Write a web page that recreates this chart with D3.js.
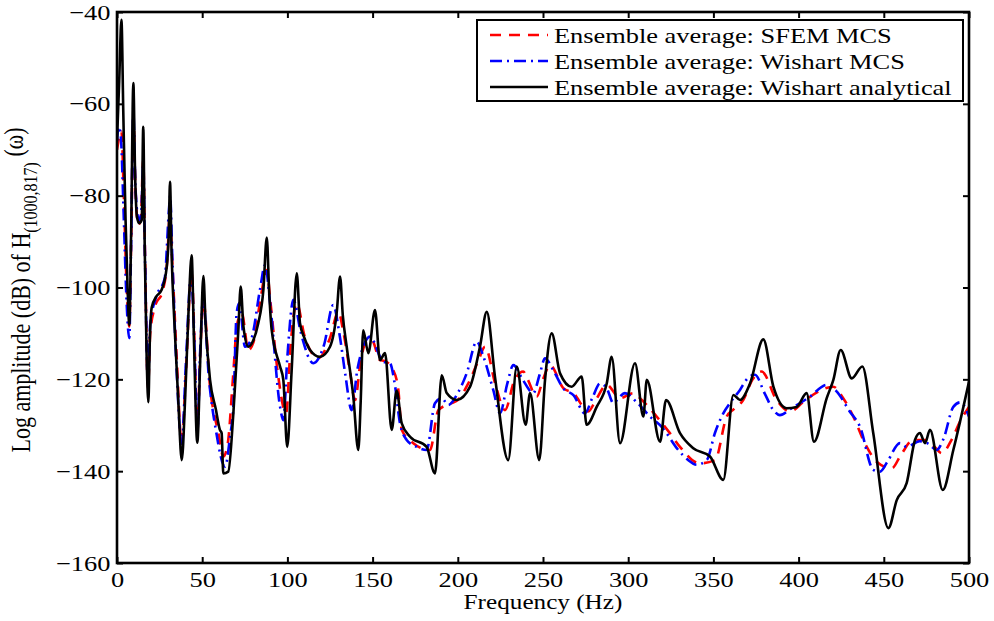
<!DOCTYPE html>
<html>
<head>
<meta charset="utf-8">
<script src="https://cdn.jsdelivr.net/npm/d3@7"></script>
<style>
  body { margin: 0; background: #fff; }
  svg text { font-family: "Liberation Serif", "Times New Roman", serif; fill: #000; }
</style>
</head>
<body>
<svg id="chart" width="994" height="621"></svg>
<script>
// axis ticks
var freqTicks = [0, 50, 100, 150, 200, 250, 300, 350, 400, 450, 500];
var ampTicks = [-160, -140, -120, -100, -80, -60, -40];

// Ensemble average: SFEM MCS
var sfemFreq = [0, 1.5, 2.6, 4, 5.5, 7.2, 8.4, 9.6, 10.8, 12.5, 14, 15.4, 16.5, 18.2, 19.5, 22, 27, 29.5, 31, 32.5, 35, 38, 40.5, 43.8, 45.5, 47.1, 49, 50.7,
  54.6, 59.5, 62.4, 65, 68, 70.5, 73.2, 77.1, 80, 84, 87.9, 90, 94.5, 99.2, 102, 105.5, 110, 118.1, 125, 129.9, 133, 137, 139.7, 143, 146, 149.5, 154.3, 157,
  162.1, 165.1, 167.1, 173.9, 183.7, 188.6, 196.4, 200, 206, 212, 216, 222, 227.7, 233, 238.4, 241, 246.3, 250, 254.1, 261.9, 267.8, 276.6, 281, 287.4,
  295.2, 303, 308, 316.7, 324, 330.4, 342.1, 351, 357.8, 362, 367.5, 373, 378.3, 387.1, 395, 402.6, 410, 420.4, 426, 432, 439, 446, 454.6, 460, 467.3,
  475.2, 480, 484, 490, 495, 500];
var sfemAmp = [-70, -67, -66, -80, -98, -108.5, -88, -63, -78, -86.4, -85, -72, -94, -122, -110, -104.5, -100.5, -94, -84, -95, -115, -134, -118, -97, -112, -131, -113, -103,
  -121.6, -131.7, -136.8, -134, -120, -108, -105.6, -113.6, -112, -103, -96.2, -103, -119, -127.4, -112, -103.4, -110.5, -115.4, -111, -105.3, -110, -119, -124.5, -116, -112, -111.4, -115.8, -116,
  -118, -122.3, -131, -133.9, -135.4, -126.7, -125.2, -124.5, -121, -116, -112.9, -121, -126.7, -120.5, -118.3, -120, -123.8, -120, -116.9, -121.9, -123, -127, -124.5, -121.2,
  -124.1, -123, -124.5, -128.1, -131.5, -134.7, -138.3, -137.6, -128.1, -126.5, -124.5, -120, -118.3, -124.5, -127, -125, -123, -121.6, -124, -128, -134, -138, -139.4, -136.5, -133.2,
  -133.2, -134.8, -136.1, -133, -129, -126];

// Ensemble average: Wishart MCS
var wishartMcsFreq = [0, 1, 2.2, 4, 5.5, 7.2, 8.3, 9.6, 10.8, 12.8, 14.2, 15.4, 16.5, 18.2, 19.5, 23, 28, 30.5, 31.2, 32.5, 35, 38, 40.5, 43.5, 45.5, 47.1, 49, 50.5,
  54, 58, 63.4, 66.5, 68.3, 70.2, 71.8, 75.1, 79, 83.9, 86.9, 90, 95.7, 97.6, 100, 103.5, 108, 115.2, 121.5, 126.9, 130.5, 134, 137.7, 141, 144.5, 148.5, 156.3,
  160.2, 163, 166.1, 170, 175.9, 181.7, 186.6, 190.6, 194.4, 200, 205.2, 211.1, 215, 220.8, 224.8, 229, 232.6, 238, 244.3, 248, 251.2, 256, 262, 268, 274.6,
  279, 283.5, 287.5, 291.3, 294.5, 298.1, 305, 312.8, 320, 329.4, 335, 340.2, 346.1, 350.9, 355.8, 360, 365.6, 370, 374.4, 380, 385.2, 389, 395, 406.6, 416.5,
  422, 430, 436, 443.8, 447.8, 452, 459.5, 463.4, 471, 476, 481, 485, 490.8, 495, 500];
var wishartMcsAmp = [-68, -65, -67, -85, -102, -111, -90, -62, -78, -85.3, -84, -73, -95, -121, -108, -102, -98, -83, -80, -94, -118, -134, -116, -97, -113, -131.5, -112, -102.5,
  -120, -131, -139, -132, -126, -105.6, -103.4, -112.9, -111, -100.5, -95.1, -104, -126, -128.9, -115, -102.7, -110, -116.5, -112.5, -103.8, -110, -119, -126.7, -118, -112.9, -110.7, -116.2,
  -116.5, -121, -129.6, -133.2, -134.7, -135.4, -125.2, -124.1, -125.6, -123, -118.7, -111.8, -115, -122.3, -127.4, -121, -116.9, -120, -123, -119, -115.4, -118, -122, -123.5, -127.4,
  -124, -120.9, -122, -125.2, -124, -123, -125, -128.1, -130.5, -135.4, -137.5, -138.6, -137.6, -131.7, -127.4, -125, -122.3, -119.8, -119, -123, -126.7, -127.8, -126.5, -123.8, -121.2,
  -122.5, -127, -130.3, -139.7, -140.1, -138, -133.9, -134.7, -133.5, -134, -135.4, -133, -126, -125, -128.1];

// Ensemble average: Wishart analytical
var wishartAnaFreq = [0, 1.3, 2.6, 3.7, 5, 6.2, 7.2, 8.3, 9.6, 10.6, 11.7, 13, 14.5, 15.4, 16.3, 17.4, 18.4, 19.3, 20.4, 23, 26.2, 29.2, 30.4, 31.1, 32, 34, 36, 38,
  40, 42, 43.8, 45.2, 47.1, 49, 50.7, 52, 54.6, 58, 60.4, 61.4, 62.4, 65.3, 68.3, 71.2, 72.6, 74.2, 77.1, 80, 82.9, 85.9, 87.9, 89.3, 90.8, 95.7, 97.6, 99.9,
  102.5, 105.5, 107.4, 110, 113.3, 119.1, 125, 128.9, 130.9, 132.5, 134.8, 138.7, 141.6, 143, 144.5, 147.5, 151.4, 154.3, 157.3, 161.2, 164.1, 167.1, 172,
  181.7, 186.6, 190.6, 193.5, 199.4, 207.2, 213, 217, 221.8, 229.6, 234.6, 239.8, 242.4, 247.8, 251.2, 255.1, 260, 266.8, 272.7, 275.6, 281.5, 287.4, 290.3,
  295.2, 304, 308.9, 310.9, 318.7, 322.2, 330.4, 338.2, 348, 355.8, 361.7, 365.6, 371.5, 379.3, 385.2, 393, 398.9, 404.7, 409, 416.5, 420.4, 424.7, 431.2,
  437.4, 443.8, 452.7, 457.6, 463.4, 468.3, 471.2, 474.2, 477.1, 484.6, 490.8, 500];
var wishartAnaAmp = [-68, -55, -41.7, -62, -85, -100, -108.2, -88, -55.5, -75, -84.6, -86, -85.3, -65, -92, -115, -125, -111, -104.3, -102, -100.5, -95.5, -88, -77, -92, -110, -125, -137.6,
  -124, -105, -93, -112, -133.8, -114, -97.5, -108, -120.1, -126.5, -131, -131.7, -140.5, -140.1, -127.3, -109.3, -99.8, -108.5, -112.9, -111.5, -107.8, -100.5, -89.1, -101, -109.3, -117.2, -120.1, -134.7,
  -118, -96.9, -107.8, -111, -113.6, -115.1, -112.9, -105.6, -97.6, -106, -112.9, -123.8, -135.4, -125, -109.3, -114.3, -104.9, -115.8, -114.3, -131, -122.5, -129.6, -132.5,
  -134.7, -140.5, -119.1, -123, -124.5, -121.6, -112.9, -105.3, -119.4, -137.6, -117.2, -129.9, -123, -137.6, -120.1, -110, -118.7, -121.6, -119.4, -129.9, -126, -120.9, -115.1,
  -133.9, -116.5, -128.1, -120.1, -133.6, -124.5, -131.7, -135, -136.8, -141.9, -123.4, -124.5, -120.9, -111.3, -121.6, -126.3, -126, -123, -133.6, -124.1, -120.1, -113.6, -119.8,
  -117.2, -131.7, -152.4, -146.3, -142.6, -133.2, -131.7, -133.9, -131, -144.1, -135.4, -120.5];

var seriesNames = ["Ensemble average: SFEM MCS", "Ensemble average: Wishart MCS", "Ensemble average: Wishart analytical"];

var plotLeft = 117, plotRight = 969, plotTop = 12, plotBottom = 563;
var sx = 1.2; // text in the original is stretched horizontally

var svg = d3.select("#chart");

var x = d3.scaleLinear().domain([0, 500]).range([plotLeft, plotRight]);
var y = d3.scaleLinear().domain([-160, -40]).range([plotBottom, plotTop]);

svg.append("defs").append("clipPath").attr("id", "plotclip")
   .append("rect").attr("x", plotLeft).attr("y", plotTop - 2).attr("width", plotRight - plotLeft).attr("height", plotBottom - plotTop + 2);

var zip = (fs, as) => fs.map((f, i) => [f, as[i]]);

var line = d3.line()
   .x(d => x(d[0]))
   .y(d => y(d[1]))
   .curve(d3.curveMonotoneX);

var series = [
  { name: seriesNames[0], data: zip(sfemFreq, sfemAmp), color: "#ff0000", dash: "11,8", width: 2.6 },
  { name: seriesNames[1], data: zip(wishartMcsFreq, wishartMcsAmp), color: "#0000ff", dash: "12,5,2,5", width: 2.6 },
  { name: seriesNames[2], data: zip(wishartAnaFreq, wishartAnaAmp), color: "#000000", dash: null, width: 2.6 }
];

var plot = svg.append("g").attr("clip-path", "url(#plotclip)");
plot.selectAll("path")
    .data(series)
    .join("path")
    .attr("fill", "none")
    .attr("stroke", d => d.color)
    .attr("stroke-width", d => d.width)
    .attr("stroke-dasharray", d => d.dash)
    .attr("stroke-linejoin", "round")
    .attr("d", d => line(d.data));

// axes, ticks pointing inward on all four sides
var fmt = d3.format("");
var xAxis = svg.append("g").attr("transform", `translate(0,${plotBottom})`)
   .call(d3.axisBottom(x).tickValues(freqTicks).tickSizeInner(-6).tickSizeOuter(0).tickPadding(8).tickFormat(fmt));
var yAxis = svg.append("g").attr("transform", `translate(${plotLeft},0)`)
   .call(d3.axisLeft(y).tickValues(ampTicks).tickSizeInner(-6).tickSizeOuter(0).tickPadding(5.5).tickFormat(fmt));
svg.append("g").attr("transform", `translate(0,${plotTop})`)
   .call(d3.axisTop(x).tickValues(freqTicks).tickSizeInner(-6).tickSizeOuter(0).tickFormat(""));
svg.append("g").attr("transform", `translate(${plotRight},0)`)
   .call(d3.axisRight(y).tickValues(ampTicks).tickSizeInner(-6).tickSizeOuter(0).tickFormat(""));

svg.selectAll(".domain").remove();
svg.selectAll(".tick line").attr("stroke", "#000").attr("stroke-width", 2);
svg.selectAll(".tick text").attr("font-size", 22).attr("font-family", "Liberation Serif").attr("fill", "#000");
xAxis.selectAll(".tick text").attr("transform", `scale(${sx},1)`);
yAxis.selectAll(".tick text").attr("transform", `scale(${sx},1)`);

svg.append("rect")
   .attr("x", plotLeft).attr("y", plotTop)
   .attr("width", plotRight - plotLeft).attr("height", plotBottom - plotTop)
   .attr("fill", "none").attr("stroke", "#000").attr("stroke-width", 2.6);

// axis labels
svg.append("text")
   .attr("transform", `translate(543,609) scale(${sx},1)`)
   .attr("text-anchor", "middle")
   .attr("font-size", 21)
   .text("Frequency (Hz)");

var ylab = svg.append("text")
   .attr("transform", `translate(30,290) rotate(-90) scale(1,${sx})`)
   .attr("text-anchor", "middle")
   .attr("font-size", 22);
ylab.append("tspan").text("Log amplitude (dB) of H");
ylab.append("tspan").attr("font-size", 16).attr("dy", 6).text("(1000,817)");
ylab.append("tspan").attr("dy", -12).text(" (ω)");

// legend
var legend = svg.append("g").attr("id", "legend");
legend.append("rect")
   .attr("x", 477).attr("y", 20).attr("width", 486).attr("height", 81)
   .attr("fill", "#fff").attr("stroke", "#000").attr("stroke-width", 2);

var item = legend.selectAll("g.item")
   .data(series)
   .join("g")
   .attr("class", "item")
   .attr("transform", (d, i) => `translate(0,${35 + i * 26})`);

item.append("line")
   .attr("x1", 490).attr("x2", 548)
   .attr("y1", 0).attr("y2", 0)
   .attr("stroke", d => d.color)
   .attr("stroke-width", d => d.width)
   .attr("stroke-dasharray", d => d.dash);

item.append("text")
   .attr("transform", `translate(554,8) scale(${sx},1)`)
   .attr("font-size", 22)
   .text(d => d.name);
</script>
</body>
</html>
